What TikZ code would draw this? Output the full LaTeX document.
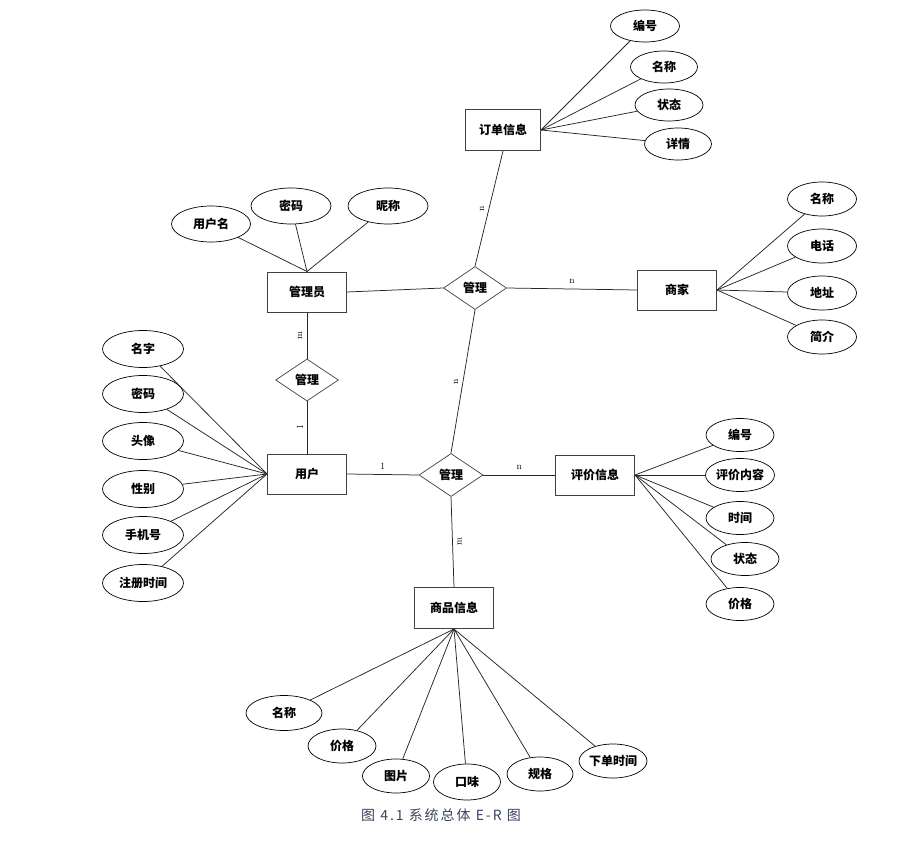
\documentclass[tikz,border=0pt]{standalone}
\usepackage{fontspec}
\newfontfamily\cjk{Noto Sans CJK SC}
\newfontfamily\capfont[LetterSpace=14]{Noto Sans CJK SC}
\usetikzlibrary{shapes}
\definecolor{capcol}{rgb}{0.22,0.27,0.36}
\tikzset{
    entity/.style={
        rectangle,
        draw=black!75,
        line width=1pt,
        minimum width=79pt,
        minimum height=40pt,
        inner sep=0pt,
        font=\cjk\bfseries\fontsize{12}{12}\selectfont
    },
    attr/.style={
        ellipse,
        draw,
        line width=0.7pt,
        minimum width=68pt,
        minimum height=33pt,
        inner sep=0pt,
        font=\cjk\bfseries\fontsize{12}{12}\selectfont
    },
    rel/.style={
        diamond,
        draw=black!75,
        line width=0.7pt,
        minimum width=63pt,
        minimum height=43pt,
        inner sep=0pt,
        font=\cjk\bfseries\fontsize{12}{12}\selectfont
    },
    link/.style={draw=black!85, line width=0.75pt},
    card/.style={inner sep=1pt, font=\fontsize{9.5}{9.5}\selectfont}
}

\begin{document}
\begin{tikzpicture}[x=1pt, y=-1pt]
    \useasboundingbox (0,0) rectangle (923,845);

    % entities
    \node (order) [entity, minimum width=75pt, minimum height=41pt] at (503,130) {订单信息};
    \node (admin) [entity] at (307,292) {管理员};
    \node (shop) [entity] at (677,290) {商家};
    \node (user) [entity] at (307,474) {用户};
    \node (review) [entity] at (595,475) {评价信息};
    \node (goods) [entity, minimum height=41pt] at (454,608) {商品信息};

    % relations
    \node (rtop) [rel] at (475,288) {管理};
    \node (rleft) [rel, minimum height=42pt] at (307,380) {管理};
    \node (rmid) [rel, minimum width=64pt] at (451,475) {管理};

    % order attributes
    \node (o1) [attr, minimum width=69pt, minimum height=32pt] at (645,26) {编号};
    \node (o2) [attr, minimum width=67pt, minimum height=32pt] at (664,67) {名称};
    \node (o3) [attr, minimum width=68pt, minimum height=32pt] at (669,105) {状态};
    \node (o4) [attr, minimum width=67pt, minimum height=32pt] at (678,144) {详情};

    % admin attributes
    \node (a1) [attr, minimum width=79pt, minimum height=36pt] at (211,224) {用户名};
    \node (a2) [attr, minimum width=80pt, minimum height=36pt] at (291,206) {密码};
    \node (a3) [attr, minimum width=80pt, minimum height=36pt] at (388,206) {昵称};

    % shop attributes
    \node (s1) [attr, minimum width=69pt, minimum height=34pt] at (822,199) {名称};
    \node (s2) [attr, minimum width=69pt, minimum height=34pt] at (822,246) {电话};
    \node (s3) [attr, minimum width=69pt, minimum height=34pt] at (822,293) {地址};
    \node (s4) [attr, minimum width=69pt, minimum height=34pt] at (822,337) {简介};

    % user attributes
    \node (u1) [attr, minimum width=81pt, minimum height=37pt] at (143,349) {名字};
    \node (u2) [attr, minimum width=81pt, minimum height=37pt] at (143,394) {密码};
    \node (u3) [attr, minimum width=81pt, minimum height=37pt] at (143,441) {头像};
    \node (u4) [attr, minimum width=81pt, minimum height=37pt] at (143,489) {性别};
    \node (u5) [attr, minimum width=81pt, minimum height=37pt] at (143,535) {手机号};
    \node (u6) [attr, minimum width=81pt, minimum height=37pt] at (143,583) {注册时间};

    % review attributes
    \node (v1) [attr] at (740,435) {编号};
    \node (v2) [attr, minimum width=69pt] at (740,475) {评价内容};
    \node (v3) [attr] at (740,518) {时间};
    \node (v4) [attr] at (745,559) {状态};
    \node (v5) [attr] at (740,604) {价格};

    % goods attributes
    \node (g1) [attr, minimum width=76pt, minimum height=35pt] at (284,713) {名称};
    \node (g2) [attr, minimum width=68pt, minimum height=34pt] at (342,746) {价格};
    \node (g3) [attr, minimum width=67pt, minimum height=34pt] at (396,776) {图片};
    \node (g4) [attr, minimum width=67pt, minimum height=36pt] at (467,782) {口味};
    \node (g5) [attr, minimum width=66pt, minimum height=34pt] at (540,774) {规格};
    \node (g6) [attr, minimum width=68pt, minimum height=34pt] at (613,761) {下单时间};

    % attribute links
    \foreach \a in {o1,o2,o3,o4} \draw [link] (order.east) -- (\a);
    \foreach \a in {a1,a2,a3} \draw [link] (admin.north) -- (\a);
    \foreach \a in {s1,s2,s3,s4} \draw [link] (shop.east) -- (\a);
    \foreach \a in {u1,u2,u3,u4,u5,u6} \draw [link] (user.west) -- (\a);
    \foreach \a in {v1,v2,v3,v4,v5} \draw [link] (review.east) -- (\a);
    \foreach \a in {g1,g2,g3,g4,g5,g6} \draw [link] (goods.south) -- (\a);

    % relation links
    \draw [link] (order.south) -- node [card, xshift=-7pt, rotate=90] {n} (rtop.north);
    \draw [link] (admin.east) -- (rtop.west);
    \draw [link] (rtop.east) -- node [card, yshift=8pt] {n} (shop.west);
    \draw [link] (rtop.south) -- node [card, xshift=-7pt, rotate=90] {n} (rmid.north);
    \draw [link] (admin.south) -- node [card, xshift=-7pt, rotate=90] {m} (rleft.north);
    \draw [link] (rleft.south) -- node [card, xshift=-7pt, rotate=90] {1} (user.north);
    \draw [link] (user.east) -- node [card, yshift=8pt] {1} (rmid.west);
    \draw [link] (rmid.east) -- node [card, yshift=8pt] {n} (review.west);
    \draw [link] (rmid.south) -- node [card, xshift=7pt, rotate=90] {m} (goods.north);

    % caption
    \node (caption) [text=capcol, font=\capfont\fontsize{14}{14}\selectfont] at (441,815) {图 4.1 系统总体 E-R 图};
\end{tikzpicture}
\end{document}
